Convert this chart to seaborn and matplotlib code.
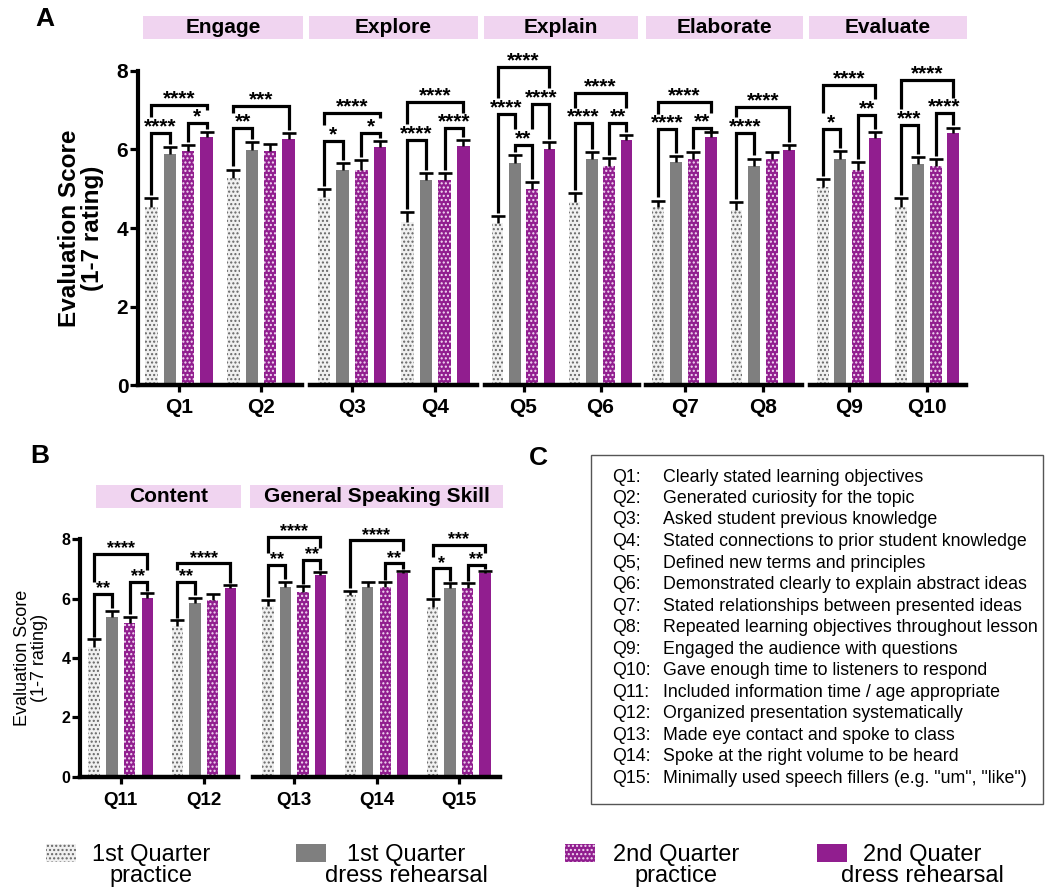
import numpy as np
import pandas as pd
import matplotlib
matplotlib.use("Agg")
import matplotlib.pyplot as plt
from matplotlib.patches import Rectangle
from matplotlib.container import BarContainer
import seaborn as sns

# ---------------- data ----------------
questions = ["Q1", "Q2", "Q3", "Q4", "Q5", "Q6", "Q7", "Q8",
             "Q9", "Q10", "Q11", "Q12", "Q13", "Q14", "Q15"]
conditions = ["1st Quarter\npractice", "1st Quarter\ndress rehearsal",
              "2nd Quarter\npractice", "2nd Quater\ndress rehearsal"]

# mean evaluation score per question (Q1..Q15)
practice_1 = [4.54, 5.27, 4.78, 4.16, 4.14, 4.67, 4.53, 4.46, 5.05, 4.53, 4.38, 5.08, 5.76, 6.12, 5.73]
dress_1 = [5.89, 5.99, 5.48, 5.22, 5.66, 5.77, 5.69, 5.58, 5.77, 5.63, 5.39, 5.84, 6.40, 6.40, 6.37]
practice_2 = [5.96, 5.97, 5.48, 5.22, 5.00, 5.59, 5.77, 5.75, 5.48, 5.58, 5.19, 5.96, 6.24, 6.40, 6.35]
dress_2 = [6.33, 6.26, 6.07, 6.10, 6.01, 6.23, 6.33, 5.99, 6.29, 6.41, 6.01, 6.35, 6.80, 6.85, 6.85]

# standard error (upper error bar only)
sem_practice_1 = [0.22, 0.22, 0.22, 0.24, 0.17, 0.21, 0.17, 0.20, 0.20, 0.23, 0.26, 0.20, 0.20, 0.15, 0.25]
sem_dress_1 = [0.18, 0.19, 0.18, 0.17, 0.19, 0.17, 0.15, 0.19, 0.19, 0.17, 0.21, 0.19, 0.17, 0.15, 0.15]
sem_practice_2 = [0.15, 0.16, 0.25, 0.19, 0.18, 0.19, 0.16, 0.18, 0.21, 0.17, 0.20, 0.19, 0.19, 0.15, 0.17]
sem_dress_2 = [0.12, 0.15, 0.14, 0.14, 0.19, 0.14, 0.12, 0.12, 0.15, 0.13, 0.17, 0.11, 0.09, 0.08, 0.09]

phases_a = ["Engage", "Explore", "Explain", "Elaborate", "Evaluate"]
phase_questions_a = [["Q1", "Q2"], ["Q3", "Q4"], ["Q5", "Q6"], ["Q7", "Q8"], ["Q9", "Q10"]]
phases_b = ["Content", "General Speaking Skill"]
phase_questions_b = [["Q11", "Q12"], ["Q13", "Q14", "Q15"]]

# significance brackets: (question, first bar, second bar, bracket level, label)
brackets = [
    ("Q1", 0, 1, 6.43, "****"), ("Q1", 2, 3, 6.67, "*"), ("Q1", 0, 3, 7.13, "****"),
    ("Q2", 0, 1, 6.54, "**"), ("Q2", 0, 3, 7.11, "***"),
    ("Q3", 0, 1, 6.22, "*"), ("Q3", 2, 3, 6.43, "*"), ("Q3", 0, 3, 6.92, "****"),
    ("Q4", 0, 1, 6.24, "****"), ("Q4", 2, 3, 6.54, "****"), ("Q4", 0, 3, 7.22, "****"),
    ("Q5", 0, 1, 6.90, "****"), ("Q5", 1, 2, 6.11, "**"), ("Q5", 2, 3, 7.16, "****"), ("Q5", 0, 3, 8.11, "****"),
    ("Q6", 0, 1, 6.67, "****"), ("Q6", 2, 3, 6.67, "**"), ("Q6", 0, 3, 7.43, "****"),
    ("Q7", 0, 1, 6.51, "****"), ("Q7", 2, 3, 6.54, "**"), ("Q7", 0, 3, 7.22, "****"),
    ("Q8", 0, 1, 6.43, "****"), ("Q8", 0, 3, 7.09, "****"),
    ("Q9", 0, 1, 6.52, "*"), ("Q9", 2, 3, 6.88, "**"), ("Q9", 0, 3, 7.64, "****"),
    ("Q10", 0, 1, 6.62, "***"), ("Q10", 2, 3, 6.92, "****"), ("Q10", 0, 3, 7.77, "****"),
    ("Q11", 0, 1, 6.16, "**"), ("Q11", 2, 3, 6.57, "**"), ("Q11", 0, 3, 7.51, "****"),
    ("Q12", 0, 1, 6.57, "**"), ("Q12", 0, 3, 7.19, "****"),
    ("Q13", 0, 1, 7.13, "**"), ("Q13", 2, 3, 7.30, "**"), ("Q13", 0, 3, 8.09, "****"),
    ("Q14", 2, 3, 7.19, "**"), ("Q14", 0, 3, 7.96, "****"),
    ("Q15", 0, 1, 7.02, "*"), ("Q15", 2, 3, 7.13, "**"), ("Q15", 0, 3, 7.81, "***"),
]

question_codes = ["Q1:", "Q2:", "Q3:", "Q4:", "Q5;", "Q6:", "Q7:", "Q8:",
                  "Q9:", "Q10:", "Q11:", "Q12:", "Q13:", "Q14:", "Q15:"]
question_text = [
    "Clearly stated learning objectives",
    "Generated curiosity for the topic",
    "Asked student previous knowledge",
    "Stated connections to prior student knowledge",
    "Defined new terms and principles",
    "Demonstrated clearly to explain abstract ideas",
    "Stated relationships between presented ideas",
    "Repeated learning objectives throughout lesson",
    "Engaged the audience with questions",
    "Gave enough time to listeners to respond",
    "Included information time / age appropriate",
    "Organized presentation systematically",
    "Made eye contact and spoke to class",
    "Spoke at the right volume to be heard",
    "Minimally used speech fillers (e.g. \"um\", \"like\")",
]

# ---------------- styles ----------------
sns.set_style("ticks")
plt.rcParams["font.family"] = ["Liberation Sans", "DejaVu Sans"]
plt.rcParams["hatch.linewidth"] = 1.0
for key in ["text.color", "axes.labelcolor", "xtick.color", "ytick.color", "axes.edgecolor"]:
    plt.rcParams[key] = "black"

GRAY = "#7f7f7f"
PURPLE = "#911e8f"
PINK = "#f0d4f0"
face = ["#f0f0f0", GRAY, PURPLE, PURPLE]
hatch_color = ["#666666", "none", "#f4dcf4", "none"]
hatches = ["....", None, "....", None]
palette = dict(zip(conditions, face))

records = []
for cond, means, sems in zip(conditions,
                             [practice_1, dress_1, practice_2, dress_2],
                             [sem_practice_1, sem_dress_1, sem_practice_2, sem_dress_2]):
    for q, m, s in zip(questions, means, sems):
        records.append({"question": q, "condition": cond, "score": m, "sem": s})
df = pd.DataFrame(records)

W, H = 1046, 888
fig = plt.figure(figsize=(W / 100, H / 100), dpi=100)


def px_axes(x0, x1, y0, y1):
    return fig.add_axes([x0 / W, 1 - y1 / H, (x1 - x0) / W, (y1 - y0) / H])


def draw_group(ax, qs, width, gap, xlim, star_size, tick_size, first):
    sub = df[df["question"].isin(qs)]
    sns.barplot(data=sub, x="question", y="score", hue="condition", order=qs,
                hue_order=conditions, palette=palette, width=width, gap=gap,
                errorbar=None, legend=False, saturation=1, ax=ax)
    bar_sets = [c for c in ax.containers if isinstance(c, BarContainer)]
    centers, tops = {}, {}
    for k, cont in enumerate(bar_sets):
        cs = sub[sub["condition"] == conditions[k]].set_index("question").loc[qs]
        xs = []
        for bar in cont.patches:
            bar.set_facecolor(face[k])
            bar.set_edgecolor(hatch_color[k])
            bar.set_hatch(hatches[k])
            bar.set_linewidth(0)
            xc = bar.get_x() + bar.get_width() / 2
            xs.append(xc)
            q = qs[int(round(xc))]
            centers[(q, k)] = xc
            tops[(q, k)] = cs.loc[q, "score"] + cs.loc[q, "sem"]
        eb = ax.errorbar(xs, cs["score"], yerr=[np.zeros(len(qs)), cs["sem"]], fmt="none",
                         ecolor="black", elinewidth=1.8, capsize=5, capthick=1.9, zorder=3)
        eb[1][0].set_visible(False)  # one-sided: hide the cap at the mean

    for (q, i, j, h, lab) in brackets:
        if q not in qs:
            continue
        bottoms = []
        for k in (i, j):
            b = tops[(q, k)] + 0.08
            for (q2, i2, j2, h2, _) in brackets:
                if q2 == q and h2 < h and i2 <= k <= j2:
                    b = max(b, h2 + 0.4)
            bottoms.append(min(b, h - 0.12))
        xi, xj = centers[(q, i)], centers[(q, j)]
        ax.plot([xi, xi, xj, xj], [bottoms[0], h, h, bottoms[1]], color="black",
                lw=2.3, clip_on=False, solid_joinstyle="miter", solid_capstyle="butt", zorder=4)
        ax.annotate(lab, xy=((xi + xj) / 2, h), xytext=(0, 0.5), textcoords="offset points",
                    ha="center", va="baseline", fontsize=star_size, fontweight="bold",
                    annotation_clip=False)

    ax.set_ylim(0, 8)
    ax.set_xlim(*xlim)
    ax.set_xlabel("")
    ax.set_ylabel("")
    sns.despine(ax=ax, left=not first)
    ax.spines["bottom"].set_linewidth(3.2)
    ax.spines["left"].set_linewidth(3.0)
    ax.tick_params(axis="x", length=5, width=2.3, pad=4, labelsize=tick_size)
    for t in ax.get_xticklabels():
        t.set_fontweight("bold")
    if first:
        ax.set_yticks([0, 2, 4, 6, 8])
        ax.tick_params(axis="y", length=6, width=2.3, pad=1)
        for t in ax.get_yticklabels():
            t.set_fontweight("bold")
    else:
        ax.tick_params(axis="y", left=False, labelleft=False)


def header(x0, x1, y0, y1, text):
    fig.add_artist(Rectangle((x0 / W, 1 - y1 / H), (x1 - x0) / W, (y1 - y0) / H,
                             transform=fig.transFigure, facecolor=PINK, edgecolor="none"))
    fig.text((x0 + x1) / 2 / W, 1 - (y0 + y1) / 2 / H, text, ha="center", va="center",
             fontsize=15, fontweight="bold")


# ---------------- panel A ----------------
axes_a = [(138, 302), (310.5, 477), (485, 639), (645.5, 802), (810, 966)]
boxes_a = [(143, 303), (309, 478), (484, 638), (646, 803), (809, 967)]
for n, ((x0, x1), qs) in enumerate(zip(axes_a, phase_questions_a)):
    ax = px_axes(x0, x1, 71, 385)
    draw_group(ax, qs, 0.9, 0.33, (-0.5, 1.5), 15, 15, n == 0)
    ax.tick_params(axis="y", labelsize=15)
    header(boxes_a[n][0], boxes_a[n][1], 16, 39, phases_a[n])
fig.text(81 / W, 1 - 228 / H, "Evaluation Score\n(1-7 rating)", rotation=90,
         ha="center", va="center", fontsize=17.5, fontweight="bold", linespacing=1.05)

# ---------------- panel B ----------------
axes_b = [(80, 238, (-0.49, 1.41)), (253, 500, (-0.5, 2.5))]
boxes_b = [(96, 241), (250, 503)]
for n, ((x0, x1, xl), qs) in enumerate(zip(axes_b, phase_questions_b)):
    ax = px_axes(x0, x1, 539.3, 776.7)
    draw_group(ax, qs, 0.85, 0.35, xl, 13, 13.5, n == 0)
    ax.tick_params(axis="y", labelsize=11.5)
    ax.tick_params(axis="x", pad=6)
    header(boxes_b[n][0], boxes_b[n][1], 485, 508, phases_b[n])
fig.text(31 / W, 1 - 658 / H, "Evaluation Score\n(1-7 rating)", rotation=90,
         ha="center", va="center", fontsize=13, linespacing=1.05)

# ---------------- panel C ----------------
fig.add_artist(Rectangle((591 / W, 1 - 804 / H), (1043 - 591) / W, (804 - 455) / H,
                         transform=fig.transFigure, facecolor="white",
                         edgecolor="#555555", linewidth=1.0))
for n, (code, txt) in enumerate(zip(question_codes, question_text)):
    y = 1 - (477 + n * 21.5) / H
    fig.text(612 / W, y, code, ha="left", va="center", fontsize=12.8)
    fig.text(663 / W, y, txt, ha="left", va="center", fontsize=12.8)

# panel letters
for letter, x, y in [("A", 45, 19), ("B", 40, 456), ("C", 538, 458)]:
    fig.text(x / W, 1 - y / H, letter, ha="center", va="center", fontsize=19, fontweight="bold")

# ---------------- legend ----------------
icon_x = [46, 296, 565, 817]
text_x = [151, 406, 676, 922]
for k, cond in enumerate(conditions):
    fig.add_artist(Rectangle((icon_x[k] / W, 1 - 862 / H), 30 / W, 18 / H,
                             transform=fig.transFigure, facecolor=face[k],
                             edgecolor=hatch_color[k], hatch=hatches[k], linewidth=0))
    fig.text(text_x[k] / W, 1 - 844 / H, cond, ha="center", va="top", fontsize=17,
             multialignment="center", linespacing=0.95)

fig.savefig("out.png", dpi=100)
